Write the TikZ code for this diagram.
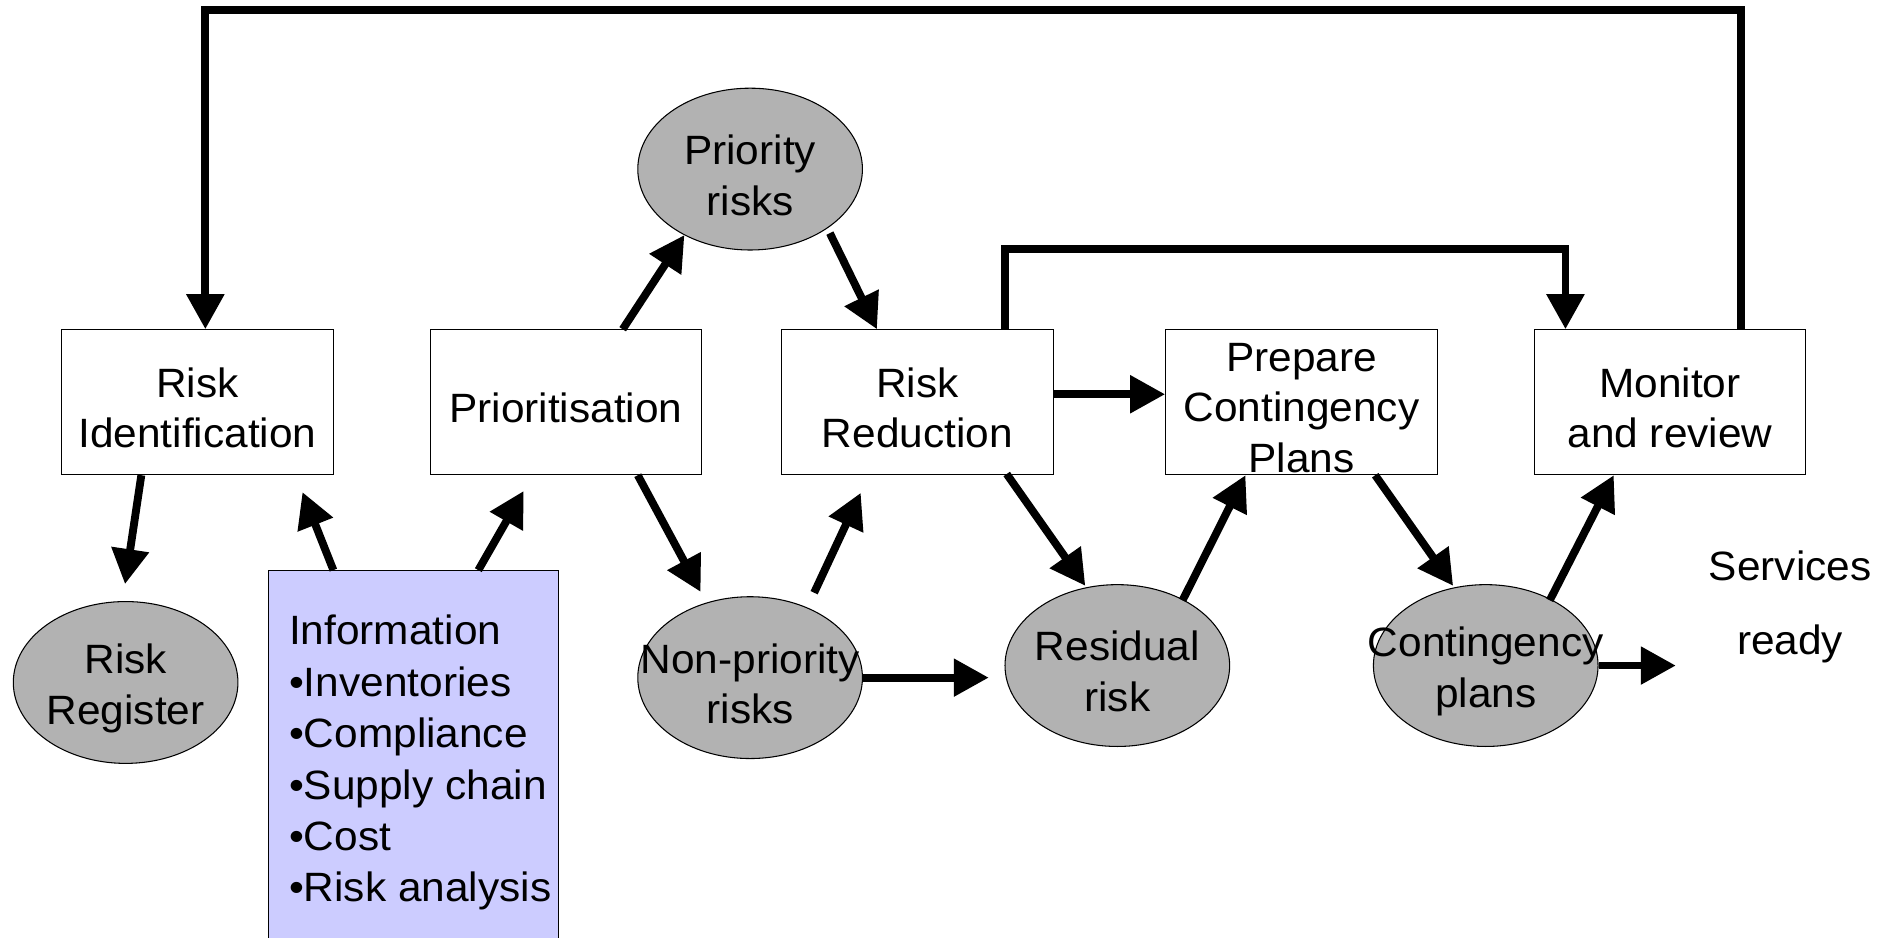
\documentclass[tikz,border=0pt]{standalone}
\usepackage{fontspec}
\setmainfont{Liberation Sans}[FakeStretch=1.035]
\usetikzlibrary{arrows.meta,shapes.geometric,calc}
\definecolor{ellgray}{HTML}{B2B2B2}
\definecolor{infofill}{HTML}{CCCCFF}
\begin{document}
\begin{tikzpicture}[x=0.02cm, y=-0.02cm,
  txt/.style={font=\fontsize{19.3pt}{23.8pt}\selectfont},
  stepbox/.style={draw, line width=0.5pt, fill=white, minimum width=4.5cm, minimum height=2.4cm, inner sep=0pt},
  boxtext/.style={txt, align=center, inner sep=0pt, yshift=-0.09cm},
  blob/.style={ellipse, draw, line width=0.5pt, fill=ellgray, minimum width=3.72cm, minimum height=2.68cm, inner sep=0pt},
  blobtext/.style={txt, align=center, inner sep=0pt, yshift=-0.1cm},
  arr/.style={line width=0.13cm, line join=miter, -{Triangle[length=0.58cm,width=0.6cm]}},
]
\useasboundingbox (0,0) rectangle (1568,776);

% boxes
\node[stepbox, label={[boxtext]center:{Risk\\Identification}}] (riskid)  at (163.5,333) {};
\node[stepbox, label={[boxtext]center:{Prioritisation}}] (prio)    at (468.5,333) {};
\node[stepbox, label={[boxtext]center:{Risk\\Reduction}}] (reduc)   at (759.5,333) {};
\node[stepbox, label={[boxtext]center:{Prepare\\Contingency\\Plans}}] (prep)    at (1077.5,333) {};
\node[stepbox, label={[boxtext]center:{Monitor\\and review}}] (monitor) at (1382.5,333) {};

% ellipses
\node[blob, label={[blobtext]center:{Priority\\risks}}] (priority) at (621,140) {};
\node[blob, label={[blobtext]center:{Risk\\Register}}] (register) at (104,565) {};
\node[blob, label={[blobtext]center:{Non-priority\\risks}}] (nonprio) at (621,561) {};
\node[blob, label={[blobtext]center:{Residual\\risk}}] (residual) at (925,551) {};
\node[blob, label={[blobtext]center:{Contingency\\plans}}] (contplans) at (1230,551) {};

% information box
\node[draw, line width=0.5pt, fill=infofill, minimum width=4.8cm, minimum height=6.2cm, inner sep=0pt, anchor=north west] (info) at (222,472) {};
\node[font=\fontsize{19.3pt}{24.2pt}\selectfont, align=left, inner sep=0pt, anchor=north west] (infotext) at (239,509)
  {Information\\•Inventories\\•Compliance\\•Supply chain\\•Cost\\•Risk analysis};

% services ready
\node[font=\fontsize{19.3pt}{34.6pt}\selectfont, align=center, inner sep=0pt] (services) at (1482,502.5) {Services\\ready};

% loop coordinates
\coordinate (toploop) at (800,8.3);
\coordinate (innerloop) at (1000,206.4);

% connectors
\draw[arr] ($(monitor.north)+(59,0)$) |- (toploop) -| ($(riskid.north)+(6.5,0)$);
\draw[arr] ($(reduc.north)+(72.5,0)$) |- (innerloop) -| ($(monitor.north)+(-86.5,0)$);

\draw[arr] ($(riskid.south)+(-46.5,0)$) -- ($(register.north)+(-0.5,-14)$);
\draw[arr] ($(info.north west)+(54,0)$) -- ($(riskid.south east)+(-26,14)$);
\draw[arr] ($(info.north west)+(174,0)$) -- ($(prio.south west)+(78,13)$);

\draw[arr] ($(prio.north)+(47,0)$) -- ($(priority.center)+(-54.4,54.6)$);
\draw[arr] ($(priority.center)+(66,53)$) -- ($(reduc.north)+(-33.5,0)$);
\draw[arr] ($(reduc.east)+(0,-6.6)$) -- ($(prep.west)+(0,-6.6)$);

\draw[arr] ($(prio.south)+(59.5,0)$) -- ($(nonprio.center)+(-41,-71)$);
\draw[arr] ($(nonprio.center)+(53,-70.3)$) -- ($(reduc.south west)+(66,14.6)$);
\draw[arr] (nonprio.east) -- ($(residual.west |- nonprio.east)+(-13,0)$);

\draw[arr] ($(reduc.south east)+(-39,-1)$) -- ($(residual.center)+(-26.5,-66)$);
\draw[arr] ($(residual.center)+(54,-54)$) -- ($(prep.south west)+(66.5,0)$);

\draw[arr] ($(prep.south)+(61,0)$) -- ($(contplans.center)+(-27,-66)$);
\draw[arr] ($(contplans.center)+(53,-54)$) -- ($(monitor.south west)+(66.4,0)$);
\draw[arr] (contplans.east) -- ($(services.west |- contplans.east)+(-27,0)$);
\end{tikzpicture}
\end{document}
